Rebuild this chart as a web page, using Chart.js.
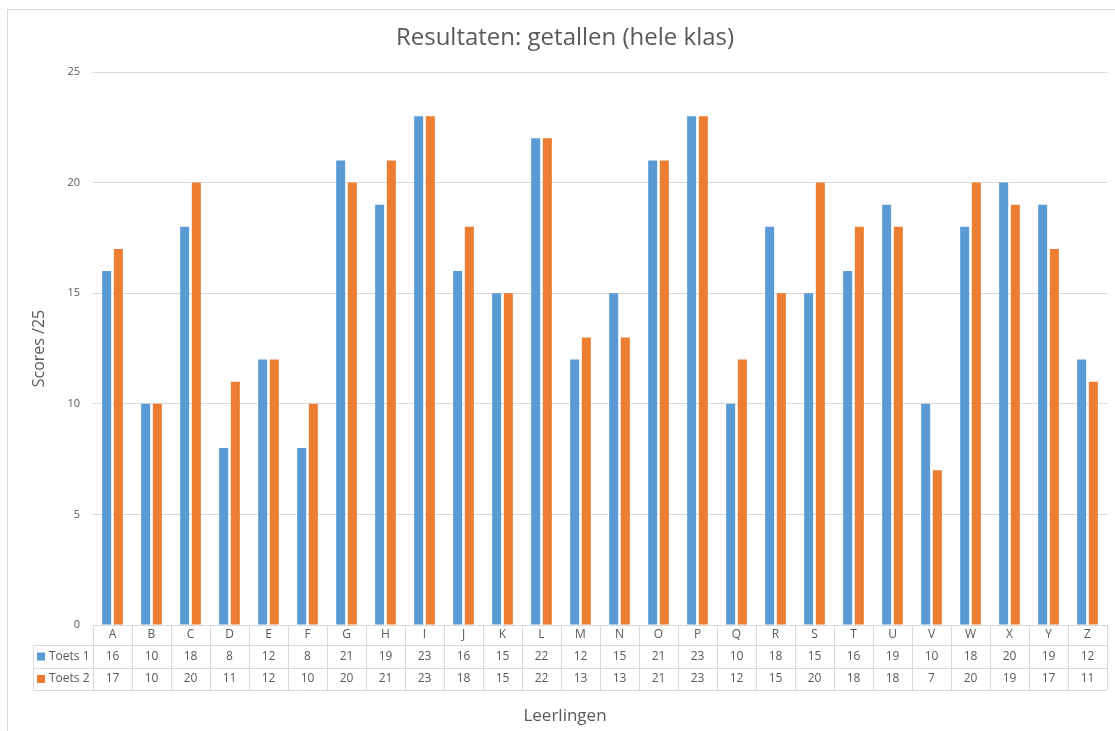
<!DOCTYPE html>
<html>
<head>
<meta charset="utf-8">
<script src="https://cdn.jsdelivr.net/npm/chart.js@4"></script>
<style>
  body { margin: 0; background: #fff; }
  #wrap { position: relative; width: 1115px; height: 731px; }
  #frame { position: absolute; left: 7px; top: 9px; width: 1120px; height: 740px; border: 1px solid #d9d9d9; box-sizing: border-box; }
  canvas { position: absolute; left: 0; top: 0; }
</style>
</head>
<body>
<div id="wrap">
  <div id="frame"></div>
  <canvas id="myChart" width="1115" height="731"></canvas>
</div>
<script>
var leerlingen = ["A","B","C","D","E","F","G","H","I","J","K","L","M","N","O","P","Q","R","S","T","U","V","W","X","Y","Z"];
var toets1 = [16,10,18,8,12,8,21,19,23,16,15,22,12,15,21,23,10,18,15,16,19,10,18,20,19,12];
var toets2 = [17,10,20,11,12,10,20,21,23,18,15,22,13,13,21,23,12,15,20,18,18,7,20,19,17,11];
var yTicks = [0,5,10,15,20,25];

var blauw = "#5b9bd5";
var oranje = "#ed7d31";
var grijs = "#595959";
var lijn = "#d9d9d9";
var fam = "'Open Sans', 'Noto Sans', sans-serif";

// titles are centred on the chart frame, not on the plot area
var titelPlugin = {
	id: "titels",
	afterDraw: function(chart) {
		var ctx = chart.ctx;
		ctx.save();
		ctx.fillStyle = grijs;
		ctx.textAlign = "center";
		ctx.textBaseline = "middle";
		ctx.font = "24px " + fam;
		ctx.fillText("Resultaten: getallen (hele klas)", 565, 38);
		ctx.font = "17px " + fam;
		ctx.fillText("Leerlingen", 565, 716);
		ctx.restore();
	}
};

// data table under the chart (Excel style)
var tabelPlugin = {
	id: "tabel",
	afterDraw: function(chart) {
		var ctx = chart.ctx;
		var x = chart.scales.x;
		var top = chart.chartArea.bottom;
		var r1 = top + 20, r2 = top + 43, r3 = top + 65;
		var links = x.left, rechts = x.right, legLinks = 33;
		var kol = (rechts - links) / leerlingen.length;

		ctx.save();
		ctx.strokeStyle = lijn;
		ctx.lineWidth = 1;
		ctx.beginPath();
		ctx.moveTo(links, top + 0.5); ctx.lineTo(rechts, top + 0.5);
		[r1, r2, r3].forEach(function(y) {
			ctx.moveTo(legLinks, y + 0.5); ctx.lineTo(rechts, y + 0.5);
		});
		ctx.moveTo(legLinks + 0.5, r1); ctx.lineTo(legLinks + 0.5, r3);
		for (var i = 0; i <= leerlingen.length; i++) {
			var xx = Math.round(links + i * kol) + 0.5;
			ctx.moveTo(xx, top); ctx.lineTo(xx, r3);
		}
		ctx.stroke();

		ctx.fillStyle = grijs;
		ctx.font = "12px " + fam;
		ctx.textAlign = "center";
		ctx.textBaseline = "middle";
		for (var j = 0; j < leerlingen.length; j++) {
			var cx = x.getPixelForValue(j);
			ctx.fillText(leerlingen[j], cx, (top + r1) / 2);
			ctx.fillText(String(toets1[j]), cx, (r1 + r2) / 2);
			ctx.fillText(String(toets2[j]), cx, (r2 + r3) / 2);
		}

		ctx.textAlign = "left";
		ctx.fillStyle = blauw;
		ctx.fillRect(37, (r1 + r2) / 2 - 4, 8, 8);
		ctx.fillStyle = oranje;
		ctx.fillRect(37, (r2 + r3) / 2 - 4, 8, 8);
		ctx.fillStyle = grijs;
		ctx.fillText("Toets 1", 49, (r1 + r2) / 2);
		ctx.fillText("Toets 2", 49, (r2 + r3) / 2);
		ctx.restore();
	}
};

var ctx = document.getElementById("myChart");

var myChart = new Chart(ctx, {
	type: "bar",
	data: {
		labels: leerlingen,
		datasets: [
			{ label: "Toets 1", data: toets1, backgroundColor: blauw, categoryPercentage: 0.6, barPercentage: 0.77 },
			{ label: "Toets 2", data: toets2, backgroundColor: oranje, categoryPercentage: 0.6, barPercentage: 0.77 }
		]
	},
	options: {
		responsive: false,
		animation: false,
		layout: { padding: { left: 0, right: 8, top: 72, bottom: 0 } },
		plugins: {
			legend: { display: false },
			tooltip: { enabled: false },
			title: { display: false }
		},
		scales: {
			x: {
				grid: { display: false, drawTicks: false },
				border: { display: false },
				ticks: { display: false },
				afterFit: function(scale) { scale.height = 106; }
			},
			y: {
				min: 0,
				max: 25,
				afterBuildTicks: function(scale) {
					scale.ticks = yTicks.map(function(v) { return { value: v }; });
				},
				grid: { color: lijn, drawTicks: false },
				border: { display: false },
				ticks: { color: grijs, font: { family: fam, size: 11 }, padding: 13 },
				title: {
					display: true,
					text: "Scores /25",
					color: grijs,
					font: { family: fam, size: 16 },
					padding: { top: 30, bottom: 0 }
				},
				afterFit: function(scale) { scale.width = 93; }
			}
		}
	},
	plugins: [tabelPlugin, titelPlugin]
});
</script>
</body>
</html>
